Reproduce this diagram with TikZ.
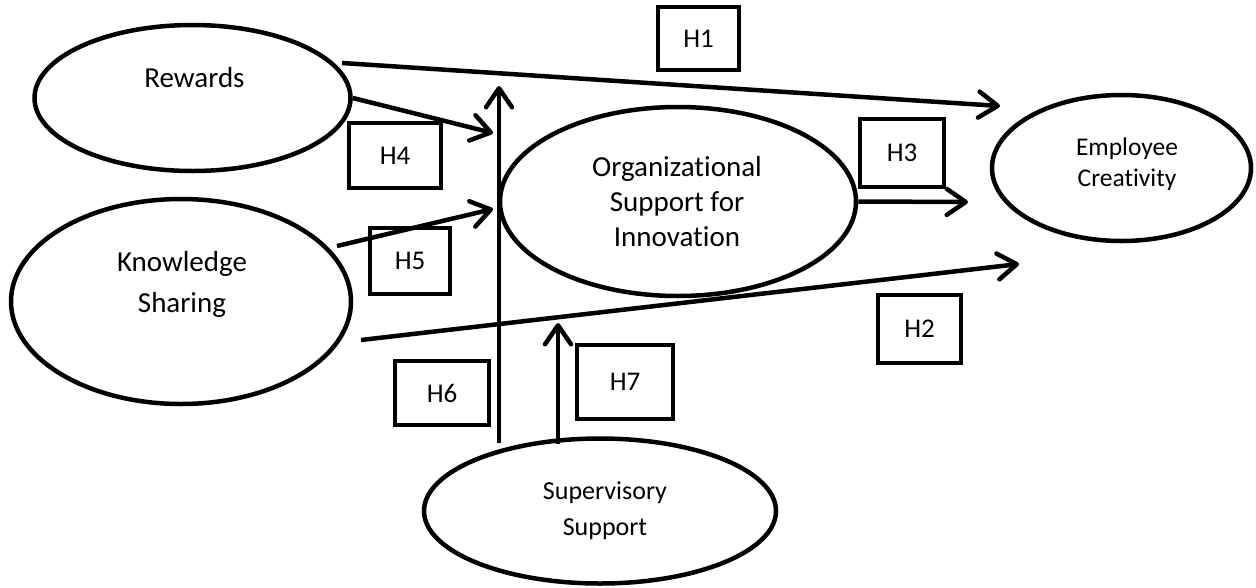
\documentclass[tikz,border=0pt]{standalone}
\usepackage{fontspec}
\setmainfont{Carlito}[Ligatures=NoCommon]
\usetikzlibrary{arrows.meta,shapes.geometric}
\begin{document}
\begin{tikzpicture}[x=1pt,y=-1pt,
  oval/.style={ellipse, draw, line width=4.5pt, inner sep=0pt},
  hbox/.style={draw, line width=4.5pt, inner sep=0pt, font=\fontsize{27}{32}\selectfont},
  arr/.style={line width=4.5pt, -{Straight Barb[length=19pt,width=26pt,round]}},
  lbl/.style={inner sep=0pt, align=center}]
\useasboundingbox (0,0) rectangle (1256,587);
% ellipses
\node[oval, minimum width=316pt, minimum height=146pt] (rew) at (192.5,98) {};
\node[oval, minimum width=340pt, minimum height=205pt] (ks) at (181,301.5) {};
\node[oval, minimum width=356pt, minimum height=189pt] (org) at (678,201.5) {};
\node[oval, minimum width=259pt, minimum height=146pt] (emp) at (1121.5,168) {};
\node[oval, minimum width=352pt, minimum height=145pt] (sup) at (600,511) {};
% texts
\node[lbl, font=\fontsize{29}{35}\selectfont, anchor=base] (rewt) at (194.5,87) {Rewards};
\node[lbl, font=\fontsize{29}{41}\selectfont] (kst) at (182,284.5) {Knowledge\\Sharing};
\node[lbl, font=\fontsize{29}{35}\selectfont] (orgt) at (677,201.5) {Organizational\\Support for\\Innovation};
\node[lbl, font=\fontsize{25.5}{31}\selectfont] (empt) at (1127,164) {Employee\\Creativity};
\node[lbl, font=\fontsize{26}{36}\selectfont] (supt) at (605,511) {Supervisory\\Support};
% hypothesis boxes
\node[hbox, minimum width=81pt, minimum height=63pt] (h1) at (698.5,38.5) {H1};
\node[hbox, minimum width=83pt, minimum height=68pt] (h2) at (919.5,329) {H2};
\node[hbox, minimum width=84pt, minimum height=68pt] (h3) at (902,153) {H3};
\node[hbox, minimum width=92pt, minimum height=65pt] (h4) at (395,155.5) {H4};
\node[hbox, minimum width=80pt, minimum height=66pt] (h5) at (410,261) {H5};
\node[hbox, minimum width=94pt, minimum height=64pt] (h6) at (442,393) {H6};
\node[hbox, minimum width=96pt, minimum height=74pt] (h7) at (625,382) {H7};
% connector end points
\coordinate (h1s) at (342,63);
\coordinate (h1e) at (1000,106);
\coordinate (h4e) at (493,133);
\coordinate (h5s) at (337,246);
\coordinate (h5e) at (493,209);
\coordinate (h6s) at (499,443);
\coordinate (h6e) at (499,86);
\coordinate (h7s) at (558,444);
\coordinate (h7e) at (558,323);
\coordinate (h3e) at (968,202);
\coordinate (h2s) at (361,340);
\coordinate (h2e) at (1019,264);
% connectors
\draw[arr] (h1s) -- (h1e);
\draw[arr] (rew.east) -- (h4e);
\draw[arr] (h5s) -- (h5e);
\draw[arr] (h6s) -- (h6e);
\draw[arr] (h7s) -- (h7e);
\draw[arr] (org.east) -- (h3e);
\draw[arr] (h2s) -- (h2e);
\end{tikzpicture}
\end{document}
